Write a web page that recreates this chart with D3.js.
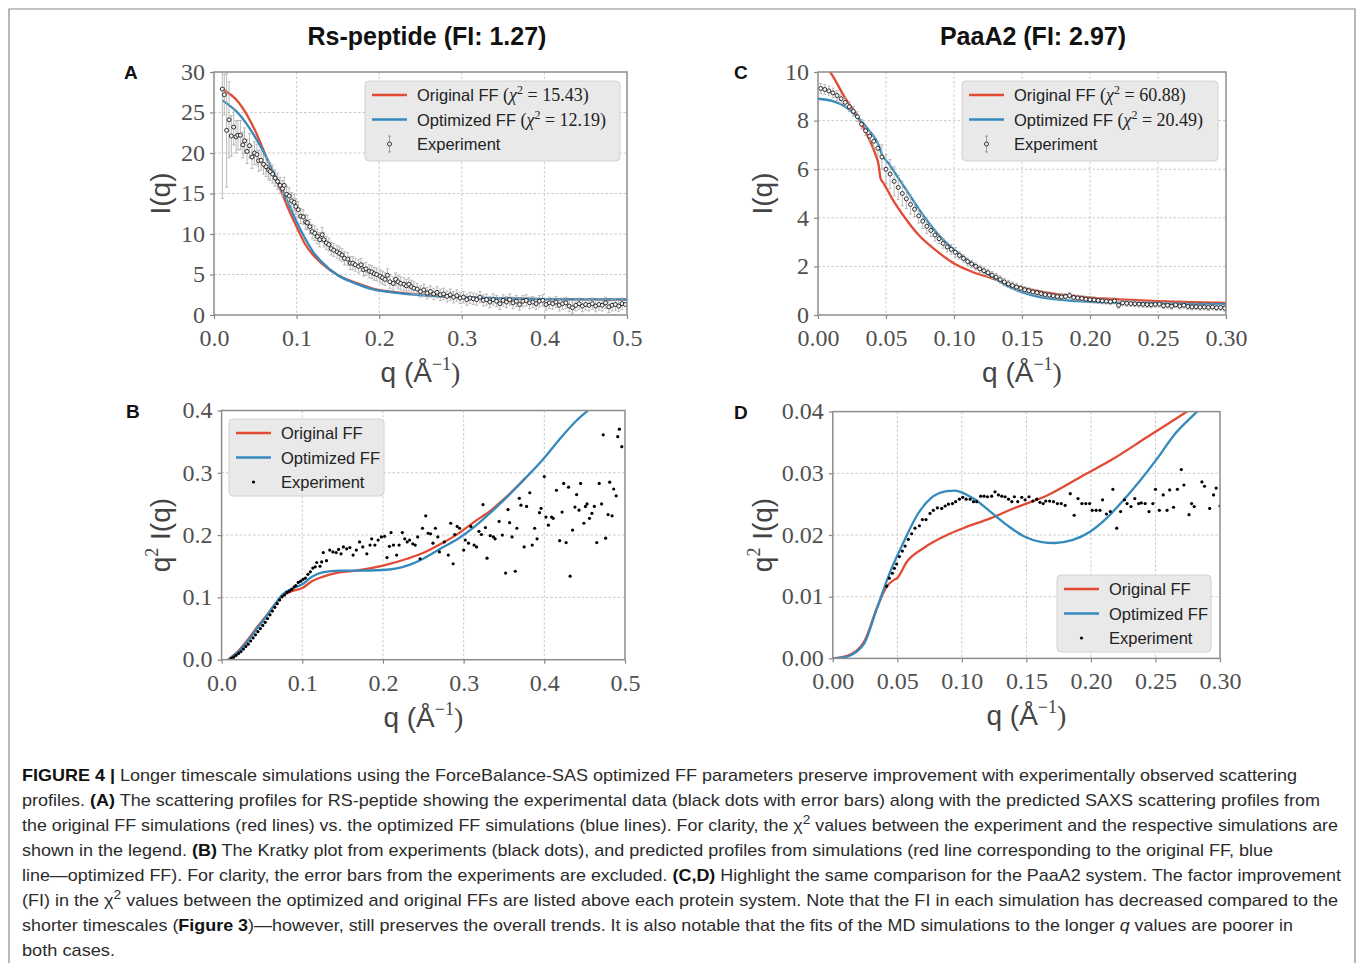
<!DOCTYPE html>
<html>
<head>
<meta charset="utf-8">
<script src="https://cdn.jsdelivr.net/npm/d3@7"></script>
<style>
  body { margin: 0; background: #fff; }
  svg text { font-family: "Liberation Sans", Arial, sans-serif; }
  .tick text { font-family: "Liberation Serif", "DejaVu Serif", serif; font-size: 24px; fill: #505050; }
</style>
</head>
<body>
<svg id="fig" width="1358" height="963"></svg>
<script>
// ---- panel A : Rs-peptide I(q) ----
const qA = [0.0101,0.0125,0.0153,0.0182,0.021,0.0238,0.0266,0.029,0.032,0.035,0.037,0.040,0.043,0.046,0.049,0.052,0.054,0.057,0.060,0.063,0.066,0.068,0.071,0.074,0.077,0.080,0.083,0.085,0.088,0.091,0.094,0.097,0.099,0.102,0.105,0.108,0.111,0.113,0.116,0.119,0.122,0.125,0.128,0.131,0.133,0.136,0.139,0.142,0.145,0.149,0.152,0.155,0.158,0.162,0.165,0.168,0.171,0.175,0.178,0.181,0.184,0.188,0.191,0.194,0.197,0.201,0.204,0.207,0.210,0.213,0.217,0.220,0.223,0.226,0.230,0.233,0.236,0.239,0.242,0.246,0.250,0.254,0.258,0.262,0.266,0.270,0.274,0.278,0.282,0.286,0.290,0.294,0.298,0.302,0.306,0.310,0.314,0.318,0.322,0.326,0.330,0.334,0.338,0.342,0.346,0.350,0.354,0.358,0.362,0.366,0.370,0.374,0.378,0.382,0.386,0.390,0.394,0.398,0.402,0.406,0.410,0.414,0.418,0.422,0.426,0.430,0.434,0.438,0.442,0.446,0.450,0.454,0.458,0.462,0.466,0.470,0.474,0.478,0.482,0.486,0.490,0.494,0.498];
const iA = [27.9,27.2,22.8,24.1,22.1,23.2,22.0,22.2,22.2,21.0,21.5,20.2,20.9,19.5,20.0,19.8,19.05,19.1,18.6,18.3,17.9,17.7,17.4,16.9,16.5,16.0,15.6,16.0,14.9,14.7,14.1,13.9,13.4,13.0,12.2,12.1,11.5,11.4,10.9,10.3,10.1,9.7,9.3,9.9,9.3,8.9,8.7,8.2,8.0,7.8,7.6,7.4,7.0,6.9,6.4,6.4,6.2,6.0,6.2,5.6,5.7,5.4,5.3,5.1,5.0,4.8,4.6,4.4,4.9,4.1,3.9,4.4,4.1,3.9,3.8,3.6,3.8,3.5,3.3,3.2,2.9,3.1,2.7,2.9,2.6,2.8,2.5,2.6,2.3,2.5,2.2,2.4,2.1,2.2,1.9,2.1,2.0,1.9,2.2,1.8,1.9,1.6,1.9,1.7,1.4,1.8,1.6,1.9,1.5,1.7,1.3,1.7,1.8,1.5,1.6,1.4,1.7,1.8,1.3,1.5,1.4,1.6,1.2,1.4,1.5,1.1,0.9,1.2,1.4,1.1,1.3,1.2,1.4,1.1,1.3,1.2,1.5,1.0,1.2,1.3,1.1,1.4,1.3];
const eA = [13.5,2.5,7.0,4.7,2.5,2.2,2.0,1.8,1.8,1.6,1.6,1.5,1.5,1.4,1.4,1.3,1.3,1.2,1.2,1.2,1.1,1.1,1.1,1.0,1.0,1.0,1.0,1.0,1.0,1.0,1.0,1.0,1.0,1.0,0.9,0.9,0.9,0.9,0.9,0.9,0.9,0.9,0.9,0.9,0.9,0.8,0.8,0.8,0.8,0.8,0.8,0.8,0.8,0.8,0.8,0.8,0.8,0.8,0.8,0.8,0.8,0.8,0.8,0.8,0.8,0.8,0.8,0.8,0.8,0.8,0.8,0.8,0.8,0.8,0.8,0.8,0.8,0.8,0.8,0.7,0.7,0.7,0.7,0.7,0.7,0.7,0.7,0.7,0.7,0.7,0.7,0.7,0.7,0.7,0.7,0.7,0.7,0.7,0.7,0.7,0.7,0.7,0.7,0.7,0.7,0.7,0.7,0.7,0.7,0.7,0.7,0.7,0.7,0.7,0.7,0.7,0.7,0.7,0.7,0.7,0.7,0.7,0.7,0.7,0.7,0.7,0.7,0.7,0.7,0.7,0.7,0.7,0.7,0.7,0.7,0.7,0.7,0.7,0.7,0.7,0.7,0.7];
const qFitA = [0.0101,0.0294,0.0496,0.0597,0.0698,0.080,0.090,0.100,0.110,0.120,0.130,0.150,0.171,0.191,0.211,0.231,0.25,0.30,0.35,0.40,0.45,0.50];
const origA = [27.9,26.3,22.8,20.4,17.9,15.6,13.1,10.9,8.8,7.4,6.4,4.9,3.99,3.3,2.9,2.7,2.5,2.2,2.05,1.97,1.92,1.9];
const optA = [26.5,24.9,22.0,20.2,18.1,16.0,13.8,11.5,9.5,7.8,6.6,4.9,3.9,3.2,2.85,2.6,2.45,2.2,2.05,1.97,1.93,1.92];

// ---- panel B : Rs-peptide Kratky ----
const qB = [0.012,0.015,0.018,0.021,0.024,0.027,0.030,0.033,0.036,0.039,0.042,0.045,0.048,0.051,0.054,0.057,0.060,0.063,0.066,0.069,0.072,0.075,0.078,0.081,0.084,0.087,0.090,0.092,0.095,0.098,0.101,0.104,0.107,0.110,0.113,0.116,0.118,0.122,0.124,0.126,0.130,0.134,0.138,0.142,0.145,0.148,0.151,0.155,0.159,0.163,0.167,0.171,0.175,0.180,0.184,0.186,0.190,0.194,0.198,0.202,0.205,0.208,0.210,0.213,0.217,0.220,0.224,0.227,0.230,0.233,0.237,0.240,0.243,0.246,0.249,0.253,0.256,0.259,0.262,0.265,0.268,0.270,0.276,0.281,0.284,0.287,0.289,0.292,0.295,0.300,0.302,0.306,0.309,0.313,0.316,0.319,0.322,0.324,0.327,0.329,0.333,0.337,0.339,0.344,0.348,0.352,0.355,0.357,0.360,0.364,0.366,0.369,0.371,0.375,0.378,0.382,0.385,0.388,0.391,0.394,0.396,0.400,0.402,0.405,0.409,0.411,0.415,0.419,0.422,0.424,0.427,0.430,0.432,0.435,0.438,0.440,0.443,0.445,0.449,0.451,0.453,0.456,0.459,0.462,0.465,0.468,0.471,0.473,0.476,0.479,0.481,0.484,0.486,0.489,0.491,0.493,0.496];
const vB = [0.002,0.004,0.007,0.010,0.013,0.017,0.021,0.025,0.030,0.035,0.040,0.045,0.050,0.055,0.060,0.066,0.072,0.078,0.084,0.090,0.096,0.101,0.104,0.108,0.110,0.113,0.117,0.119,0.124,0.126,0.129,0.131,0.137,0.141,0.147,0.149,0.156,0.150,0.157,0.172,0.159,0.176,0.173,0.172,0.177,0.170,0.181,0.178,0.180,0.168,0.176,0.189,0.181,0.170,0.184,0.194,0.184,0.192,0.197,0.198,0.164,0.182,0.204,0.184,0.168,0.184,0.204,0.194,0.189,0.192,0.186,0.184,0.197,0.162,0.211,0.231,0.203,0.202,0.187,0.211,0.197,0.173,0.189,0.168,0.219,0.154,0.201,0.214,0.211,0.176,0.192,0.187,0.214,0.184,0.181,0.206,0.201,0.249,0.212,0.163,0.199,0.197,0.194,0.222,0.200,0.139,0.241,0.220,0.197,0.142,0.211,0.259,0.248,0.181,0.246,0.268,0.184,0.211,0.194,0.236,0.243,0.294,0.229,0.216,0.229,0.227,0.272,0.191,0.237,0.283,0.188,0.277,0.134,0.208,0.245,0.265,0.240,0.283,0.219,0.246,0.250,0.227,0.235,0.246,0.188,0.283,0.250,0.361,0.195,0.233,0.285,0.231,0.274,0.263,0.358,0.370,0.342];
const qOrigB = [0.008,0.02,0.033,0.045,0.054,0.065,0.075,0.087,0.1,0.112,0.125,0.146,0.167,0.2,0.23,0.251,0.272,0.293,0.314,0.335,0.356,0.377];
const origB = [0.0,0.013,0.033,0.054,0.068,0.087,0.102,0.110,0.115,0.126,0.133,0.140,0.143,0.151,0.162,0.172,0.186,0.202,0.222,0.241,0.265,0.292];
const qOptB = [0.008,0.02,0.033,0.045,0.054,0.065,0.075,0.087,0.1,0.112,0.125,0.146,0.167,0.2,0.23,0.251,0.272,0.293,0.314,0.335,0.356,0.377,0.398,0.419,0.440,0.458];
const optB = [0.0,0.012,0.031,0.052,0.067,0.087,0.104,0.114,0.121,0.133,0.140,0.143,0.143,0.144,0.151,0.163,0.179,0.194,0.214,0.238,0.264,0.292,0.321,0.354,0.384,0.404];

// ---- panel C : PaaA2 I(q) ----
const qC = [0.002,0.005,0.008,0.011,0.014,0.017,0.020,0.023,0.026,0.029,0.032,0.035,0.038,0.041,0.044,0.047,0.050,0.053,0.056,0.059,0.062,0.065,0.068,0.071,0.074,0.077,0.080,0.083,0.086,0.089,0.092,0.095,0.098,0.101,0.104,0.107,0.110,0.113,0.116,0.119,0.122,0.125,0.128,0.131,0.134,0.137,0.140,0.143,0.146,0.149,0.152,0.155,0.158,0.161,0.164,0.167,0.170,0.173,0.176,0.179,0.182,0.185,0.188,0.191,0.194,0.197,0.200,0.203,0.206,0.209,0.212,0.215,0.218,0.221,0.224,0.227,0.230,0.233,0.236,0.239,0.242,0.245,0.248,0.251,0.254,0.257,0.260,0.263,0.266,0.269,0.272,0.275,0.278,0.281,0.284,0.287,0.290,0.293,0.296,0.299];
const iC = [9.32,9.28,9.22,9.14,9.03,8.90,8.75,8.57,8.38,8.16,7.85,7.58,7.36,7.15,6.86,6.50,6.00,5.80,5.50,5.25,5.00,4.78,4.55,4.35,4.08,3.86,3.65,3.48,3.29,3.14,2.95,2.80,2.70,2.58,2.45,2.33,2.20,2.10,2.00,1.90,1.82,1.74,1.64,1.56,1.46,1.36,1.28,1.21,1.15,1.10,1.04,1.00,0.95,0.92,0.88,0.84,0.82,0.79,0.76,0.74,0.76,0.80,0.72,0.70,0.68,0.65,0.63,0.62,0.60,0.58,0.57,0.55,0.58,0.40,0.50,0.48,0.47,0.46,0.45,0.44,0.43,0.42,0.44,0.45,0.38,0.40,0.36,0.42,0.37,0.40,0.35,0.33,0.34,0.32,0.33,0.31,0.33,0.30,0.31,0.28];
const eC = [0.2,0.2,0.2,0.2,0.2,0.2,0.2,0.2,0.2,0.2,0.2,0.2,0.2,0.25,0.3,0.5,0.6,0.6,0.6,0.5,0.5,0.4,0.4,0.3,0.3,0.3,0.3,0.25,0.25,0.2,0.2,0.2,0.2,0.2,0.15,0.15,0.15,0.15,0.15,0.15,0.15,0.15,0.15,0.15,0.15,0.15,0.15,0.15,0.15,0.12,0.12,0.12,0.12,0.12,0.12,0.12,0.12,0.12,0.12,0.12,0.12,0.12,0.12,0.12,0.12,0.12,0.12,0.12,0.12,0.12,0.12,0.12,0.12,0.12,0.12,0.12,0.12,0.12,0.12,0.12,0.12,0.12,0.12,0.12,0.12,0.12,0.12,0.12,0.12,0.12,0.12,0.12,0.12,0.12,0.12,0.12,0.12,0.12,0.12,0.12];
const qOrigC = [0.0,0.0103,0.0201,0.0299,0.0373,0.042,0.0446,0.046,0.0483,0.0544,0.0642,0.074,0.0863,0.100,0.1132,0.128,0.1426,0.157,0.172,0.19,0.21,0.23,0.25,0.275,0.30];
const origC = [10.7,9.88,8.92,8.09,7.27,6.65,6.17,5.62,5.42,4.80,3.98,3.29,2.68,2.12,1.78,1.51,1.23,1.03,0.89,0.77,0.68,0.62,0.57,0.53,0.50];
const qOptC = [0.0,0.0103,0.0201,0.0299,0.0373,0.0446,0.047,0.0519,0.0593,0.069,0.0789,0.0887,0.100,0.1132,0.128,0.1426,0.157,0.172,0.19,0.20,0.225,0.25,0.275,0.30];
const optC = [8.9,8.81,8.57,8.09,7.61,6.99,6.6,6.24,5.62,4.80,3.98,3.29,2.68,2.12,1.58,1.10,0.82,0.66,0.57,0.54,0.50,0.48,0.46,0.45];

// ---- panel D : PaaA2 Kratky ----
const qD = [0.0418,0.0438,0.0462,0.0477,0.0495,0.0516,0.0539,0.056,0.0585,0.0611,0.0637,0.0671,0.0694,0.0722,0.0753,0.0779,0.081,0.0844,0.087,0.0896,0.0927,0.0952,0.0981,0.1007,0.1033,0.1064,0.109,0.1115,0.1146,0.1172,0.1198,0.1231,0.1257,0.1283,0.1309,0.1335,0.1361,0.1387,0.1407,0.1433,0.1464,0.149,0.152,0.155,0.158,0.1605,0.163,0.165,0.168,0.171,0.174,0.177,0.180,0.184,0.187,0.190,0.193,0.196,0.199,0.201,0.204,0.207,0.209,0.212,0.215,0.217,0.220,0.223,0.226,0.228,0.231,0.234,0.237,0.239,0.242,0.245,0.248,0.250,0.253,0.256,0.259,0.261,0.264,0.267,0.270,0.272,0.276,0.278,0.280,0.286,0.288,0.292,0.295,0.297,0.300];
const vD = [0.0117,0.0130,0.0138,0.0146,0.0153,0.0165,0.0174,0.0182,0.0193,0.0202,0.0211,0.0215,0.0225,0.0225,0.0235,0.0240,0.0244,0.0243,0.0247,0.0250,0.0251,0.0254,0.0258,0.0261,0.0258,0.0258,0.0254,0.0254,0.0263,0.0263,0.0262,0.0263,0.0270,0.0265,0.0263,0.0262,0.0258,0.0254,0.0262,0.0254,0.0261,0.0257,0.0262,0.0255,0.0258,0.0253,0.0251,0.0255,0.0255,0.0254,0.0251,0.0251,0.0248,0.0267,0.0232,0.0259,0.0251,0.0251,0.0251,0.0240,0.0240,0.0240,0.0257,0.0234,0.0238,0.0274,0.0211,0.0238,0.0257,0.0251,0.0246,0.0259,0.0251,0.0252,0.0251,0.0238,0.0251,0.0274,0.0240,0.0265,0.0240,0.0273,0.0245,0.0274,0.0306,0.0281,0.0233,0.0251,0.0246,0.0286,0.0279,0.0243,0.0265,0.0276,0.0247];
const qOrigD = [0.0,0.011,0.024,0.0343,0.042,0.0472,0.0498,0.0575,0.0704,0.0885,0.101,0.122,0.140,0.166,0.192,0.217,0.243,0.275,0.285];
const origD = [0.0,0.0004,0.0026,0.0082,0.0117,0.0127,0.0130,0.0157,0.0179,0.0200,0.0211,0.0227,0.0243,0.0264,0.0294,0.0323,0.0358,0.0401,0.0415];
const qOptD = [0.0,0.011,0.024,0.0343,0.0446,0.055,0.0653,0.0756,0.0885,0.0947,0.0988,0.109,0.122,0.135,0.148,0.161,0.172,0.186,0.199,0.212,0.225,0.238,0.251,0.264,0.283,0.29];
const optD = [0.0,0.0003,0.0023,0.0082,0.0141,0.0189,0.0232,0.0259,0.0271,0.0272,0.0270,0.0259,0.0238,0.0216,0.0198,0.0189,0.0187,0.0192,0.0205,0.0227,0.0256,0.0288,0.0323,0.0361,0.0402,0.0418];

// ---- ticks ----
const ticksA_x = [0, 0.1, 0.2, 0.3, 0.4, 0.5];
const ticksA_y = [0, 5, 10, 15, 20, 25, 30];
const ticksB_y = [0, 0.1, 0.2, 0.3, 0.4];
const ticksC_x = [0, 0.05, 0.10, 0.15, 0.20, 0.25, 0.30];
const ticksC_y = [0, 2, 4, 6, 8, 10];
const ticksD_y = [0, 0.01, 0.02, 0.03, 0.04];

const RED = "#e24a33", BLUE = "#348abd";
const svg = d3.select("#fig");

// figure frame
svg.append("path").attr("d", "M9,963V9H1355V963")
  .attr("fill", "none").attr("stroke", "#8a8a8a").attr("stroke-width", 1.2);

function zip(xs, ys, es) {
  return xs.map((q, i) => ({ q: q, v: ys[i], e: es ? es[i] : 0 }));
}

function drawPanel(o) {
  const x = d3.scaleLinear().domain(o.xDomain).range([o.left, o.right]);
  const y = d3.scaleLinear().domain(o.yDomain).range([o.bottom, o.top]);
  const g = svg.append("g");
  const cid = "clip" + o.id;
  g.append("clipPath").attr("id", cid).append("rect")
    .attr("x", o.left).attr("y", o.top)
    .attr("width", o.right - o.left).attr("height", o.bottom - o.top);

  // dashed grid
  g.append("g").selectAll("line").data(o.xTicks.slice(1, -1)).join("line")
    .attr("x1", d => x(d)).attr("x2", d => x(d)).attr("y1", o.top).attr("y2", o.bottom)
    .attr("stroke", "#c4c4c4").attr("stroke-width", 0.9).attr("stroke-dasharray", "2.5,2");
  g.append("g").selectAll("line").data(o.yTicks.slice(1, -1)).join("line")
    .attr("y1", d => y(d)).attr("y2", d => y(d)).attr("x1", o.left).attr("x2", o.right)
    .attr("stroke", "#c4c4c4").attr("stroke-width", 0.9).attr("stroke-dasharray", "2.5,2");

  // axes
  const ax = g.append("g").attr("transform", `translate(0,${o.bottom})`)
    .call(d3.axisBottom(x).tickValues(o.xTicks).tickFormat(o.xFmt).tickSize(4).tickPadding(10));
  const ay = g.append("g").attr("transform", `translate(${o.left},0)`)
    .call(d3.axisLeft(y).tickValues(o.yTicks).tickFormat(o.yFmt).tickSize(4).tickPadding(5));
  [ax, ay].forEach(a => {
    a.select(".domain").remove();
    a.selectAll(".tick line").attr("stroke", "#888").attr("stroke-width", 1.2);
    a.attr("font-size", null).attr("font-family", null);
  });
  ay.selectAll(".tick text").attr("dy", "0.3em");

  const plot = g.append("g").attr("clip-path", `url(#${cid})`);
  const line = d3.line().x(d => x(d.q)).y(d => y(d.v)).curve(d3.curveMonotoneX);

  o.curves.forEach(c => {
    plot.append("path").datum(c.data).attr("d", line)
      .attr("fill", "none").attr("stroke", c.color).attr("stroke-width", 2.3);
  });

  if (o.errorbars) {
    const eb = plot.append("g").attr("stroke", "#a8a8a8").attr("stroke-width", 0.8);
    eb.selectAll("line.bar").data(o.points).join("line").attr("class", "bar")
      .attr("x1", d => x(d.q)).attr("x2", d => x(d.q))
      .attr("y1", d => y(d.v - d.e)).attr("y2", d => y(d.v + d.e));
    eb.selectAll("line.cap1").data(o.points).join("line").attr("class", "cap1")
      .attr("x1", d => x(d.q) - 1.5).attr("x2", d => x(d.q) + 1.5)
      .attr("y1", d => y(d.v - d.e)).attr("y2", d => y(d.v - d.e));
    eb.selectAll("line.cap2").data(o.points).join("line").attr("class", "cap2")
      .attr("x1", d => x(d.q) - 1.5).attr("x2", d => x(d.q) + 1.5)
      .attr("y1", d => y(d.v + d.e)).attr("y2", d => y(d.v + d.e));
    plot.append("g").selectAll("circle").data(o.points).join("circle")
      .attr("cx", d => x(d.q)).attr("cy", d => y(d.v)).attr("r", 2)
      .attr("fill", "#f4f4f4").attr("stroke", "#1a1a1a").attr("stroke-width", 0.9);
  } else {
    plot.append("g").selectAll("circle").data(o.points).join("circle")
      .attr("cx", d => x(d.q)).attr("cy", d => y(d.v)).attr("r", 1.6)
      .attr("fill", "#000");
  }

  // spines
  g.append("rect").attr("x", o.left).attr("y", o.top)
    .attr("width", o.right - o.left).attr("height", o.bottom - o.top)
    .attr("fill", "none").attr("stroke", "#8c8c8c").attr("stroke-width", 1.5);

  // x label
  const xl = g.append("text").attr("x", (o.left + o.right) / 2).attr("y", o.bottom + 67)
    .attr("text-anchor", "middle").attr("font-size", 28).attr("fill", "#444");
  xl.append("tspan").text("q (Å");
  xl.append("tspan").attr("font-size", 18).attr("dy", -12).attr("font-family", "Liberation Serif, serif").text("−1");
  xl.append("tspan").attr("dy", 12).attr("font-family", "Liberation Serif, serif").text(")");

  // y label
  const yl = g.append("text").attr("transform", `translate(${o.ylabX},${(o.top + o.bottom) / 2}) rotate(-90)`)
    .attr("text-anchor", "middle").attr("font-size", 28).attr("fill", "#444");
  if (o.kratky) {
    yl.append("tspan").text("q");
    yl.append("tspan").attr("font-size", 18).attr("dy", -12).attr("font-family", "Liberation Serif, serif").text("2");
    yl.append("tspan").attr("dy", 12).text(" I(q)");
  } else {
    yl.text("I(q)");
  }

  // panel letter
  g.append("text").attr("x", o.letterX).attr("y", o.top + 7)
    .attr("font-size", 19).attr("font-weight", "bold").attr("fill", "#111").text(o.id);

  // legend
  const L = o.legend;
  const lg = g.append("g");
  lg.append("rect").attr("x", L.x).attr("y", L.y).attr("width", L.w).attr("height", L.h)
    .attr("rx", 4).attr("fill", "#e9e9e9").attr("stroke", "#d2d2d2").attr("stroke-width", 1);
  const rows = [
    { color: RED, label: "Original FF", chi: L.chi ? L.chi[0] : null },
    { color: BLUE, label: "Optimized FF", chi: L.chi ? L.chi[1] : null },
    { label: "Experiment" }
  ];
  rows.forEach((r, i) => {
    const cy = L.y + 14 + i * 24.5;
    if (r.color) {
      lg.append("line").attr("x1", L.x + 7).attr("x2", L.x + 42).attr("y1", cy).attr("y2", cy)
        .attr("stroke", r.color).attr("stroke-width", 2.3);
    } else if (o.errorbars) {
      const mx = L.x + 24.5;
      lg.append("line").attr("x1", mx).attr("x2", mx).attr("y1", cy - 8).attr("y2", cy + 8)
        .attr("stroke", "#888").attr("stroke-width", 0.8);
      lg.append("line").attr("x1", mx - 1.5).attr("x2", mx + 1.5).attr("y1", cy - 8).attr("y2", cy - 8)
        .attr("stroke", "#888").attr("stroke-width", 0.8);
      lg.append("line").attr("x1", mx - 1.5).attr("x2", mx + 1.5).attr("y1", cy + 8).attr("y2", cy + 8)
        .attr("stroke", "#888").attr("stroke-width", 0.8);
      lg.append("circle").attr("cx", mx).attr("cy", cy).attr("r", 2)
        .attr("fill", "#f4f4f4").attr("stroke", "#1a1a1a").attr("stroke-width", 0.9);
    } else {
      lg.append("circle").attr("cx", L.x + 24.5).attr("cy", cy).attr("r", 1.6).attr("fill", "#000");
    }
    const t = lg.append("text").attr("x", L.x + 52).attr("y", cy + 6)
      .attr("font-size", 16.5).attr("fill", "#222");
    t.append("tspan").text(r.label);
    if (r.chi) {
      t.append("tspan").attr("font-family", "Liberation Serif, serif").attr("font-size", 18).text(" (");
      t.append("tspan").attr("font-family", "Liberation Serif, serif").attr("font-size", 18)
        .attr("font-style", "italic").text("χ");
      t.append("tspan").attr("font-family", "Liberation Serif, serif").attr("font-size", 12)
        .attr("dy", -7).text("2");
      t.append("tspan").attr("font-family", "Liberation Serif, serif").attr("font-size", 18)
        .attr("dy", 7).text(" = " + r.chi + ")");
    }
  });
}

drawPanel({
  id: "A", left: 214, right: 627, top: 72, bottom: 315,
  xDomain: [0, 0.5], yDomain: [0, 30], xTicks: ticksA_x, yTicks: ticksA_y,
  xFmt: d3.format(".1f"), yFmt: d3.format("d"),
  points: zip(qA, iA, eA), errorbars: true,
  curves: [{ color: RED, data: zip(qFitA, origA) }, { color: BLUE, data: zip(qFitA, optA) }],
  ylabX: 170, letterX: 124,
  legend: { x: 365, y: 81, w: 255, h: 80, chi: ["15.43", "12.19"] }
});
drawPanel({
  id: "B", left: 221.6, right: 625, top: 410.5, bottom: 659.7, kratky: true,
  xDomain: [0, 0.5], yDomain: [0, 0.4], xTicks: ticksA_x, yTicks: ticksB_y,
  xFmt: d3.format(".1f"), yFmt: d3.format(".1f"),
  points: zip(qB, vB), errorbars: false,
  curves: [{ color: RED, data: zip(qOrigB, origB) }, { color: BLUE, data: zip(qOptB, optB) }],
  ylabX: 170, letterX: 126,
  legend: { x: 229, y: 419, w: 155, h: 77 }
});
drawPanel({
  id: "C", left: 818, right: 1226, top: 72, bottom: 315,
  xDomain: [0, 0.3], yDomain: [0, 10], xTicks: ticksC_x, yTicks: ticksC_y,
  xFmt: d3.format(".2f"), yFmt: d3.format("d"),
  points: zip(qC, iC, eC), errorbars: true,
  curves: [{ color: RED, data: zip(qOrigC, origC) }, { color: BLUE, data: zip(qOptC, optC) }],
  ylabX: 772, letterX: 734,
  legend: { x: 962, y: 81, w: 256, h: 80, chi: ["60.88", "20.49"] }
});
drawPanel({
  id: "D", left: 832.8, right: 1220, top: 411.6, bottom: 658.4, kratky: true,
  xDomain: [0, 0.3], yDomain: [0, 0.04], xTicks: ticksC_x, yTicks: ticksD_y,
  xFmt: d3.format(".2f"), yFmt: d3.format(".2f"),
  points: zip(qD, vD), errorbars: false,
  curves: [{ color: RED, data: zip(qOrigD, origD) }, { color: BLUE, data: zip(qOptD, optD) }],
  ylabX: 772, letterX: 734,
  legend: { x: 1057, y: 575, w: 154, h: 77 }
});

// column titles
svg.append("text").attr("x", 427).attr("y", 45).attr("text-anchor", "middle")
  .attr("font-size", 25).attr("font-weight", "bold").attr("fill", "#111").text("Rs-peptide (FI: 1.27)");
svg.append("text").attr("x", 1033).attr("y", 45).attr("text-anchor", "middle")
  .attr("font-size", 25).attr("font-weight", "bold").attr("fill", "#111").text("PaaA2 (FI: 2.97)");

// caption
const captionLines = [
  [["FIGURE 4 | ", "b"], ["Longer timescale simulations using the ForceBalance-SAS optimized FF parameters preserve improvement with experimentally observed scattering", ""]],
  [["profiles. ", ""], ["(A)", "b"], [" The scattering profiles for RS-peptide showing the experimental data (black dots with error bars) along with the predicted SAXS scattering profiles from", ""]],
  [["the original FF simulations (red lines) vs. the optimized FF simulations (blue lines). For clarity, the χ", ""], ["2", "sup"], [" values between the experiment and the respective simulations are", ""]],
  [["shown in the legend. ", ""], ["(B)", "b"], [" The Kratky plot from experiments (black dots), and predicted profiles from simulations (red line corresponding to the original FF, blue", ""]],
  [["line—optimized FF). For clarity, the error bars from the experiments are excluded. ", ""], ["(C,D)", "b"], [" Highlight the same comparison for the PaaA2 system. The factor improvement", ""]],
  [["(FI) in the χ", ""], ["2", "sup"], [" values between the optimized and original FFs are listed above each protein system. Note that the FI in each simulation has decreased compared to the", ""]],
  [["shorter timescales (", ""], ["Figure 3", "b"], [")—however, still preserves the overall trends. It is also notable that the fits of the MD simulations to the longer ", ""], ["q", "i"], [" values are poorer in", ""]],
  [["both cases.", ""]]
];
const captionWidths = [1275, 1298, 1316, 1251, 1319, 1316, 1271, 93];

captionLines.forEach((segs, i) => {
  const t = svg.append("text").attr("x", 22).attr("y", 781 + i * 25)
    .attr("font-size", 17).attr("fill", "#2b2b2b")
    .attr("textLength", captionWidths[i]).attr("lengthAdjust", "spacingAndGlyphs");
  let raised = false;
  segs.forEach(s => {
    const sp = t.append("tspan").text(s[0]);
    if (s[1] === "b") sp.attr("font-weight", "bold").attr("fill", "#111");
    if (s[1] === "i") sp.attr("font-style", "italic");
    if (s[1] === "sup") { sp.attr("font-size", 13).attr("dy", -7); raised = true; }
    else if (raised) { sp.attr("dy", 7); raised = false; }
  });
});
</script>
</body>
</html>
